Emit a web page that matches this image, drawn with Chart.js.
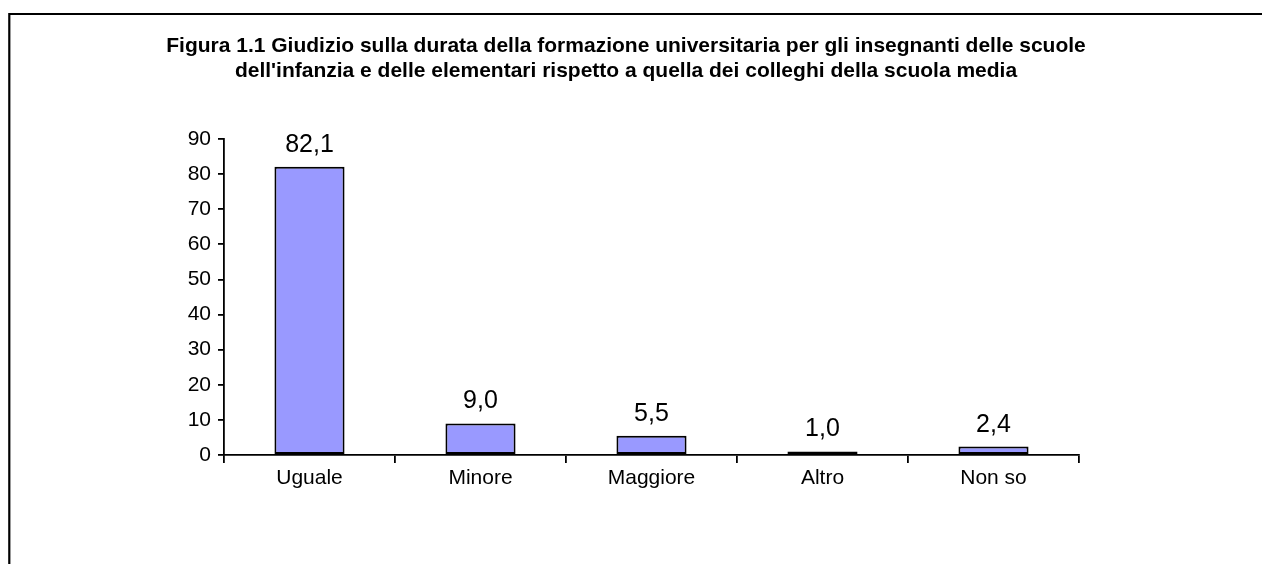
<!DOCTYPE html>
<html lang="it">
<head>
<meta charset="utf-8">
<title>Figura 1.1</title>
<script src="https://cdn.jsdelivr.net/npm/chart.js@4/dist/chart.umd.min.js"></script>
<style>
  html, body { margin: 0; padding: 0; background: #fff; }
  #wrap { position: relative; width: 1262px; height: 564px; }
</style>
</head>
<body>
<div id="wrap"><canvas id="chart"></canvas></div>
<script>
/* ---- data ---- */
const categories = ['Uguale', 'Minore', 'Maggiore', 'Altro', 'Non so'];
const values = [82.1, 9.0, 5.5, 1.0, 2.4];
const yTicks = [0, 10, 20, 30, 40, 50, 60, 70, 80, 90];
const titleLines = [
  'Figura 1.1 Giudizio sulla durata della formazione universitaria per gli insegnanti delle scuole',
  "dell'infanzia e delle elementari rispetto a quella dei colleghi della scuola media"
];

const FONT = '"Liberation Sans", Arial, Helvetica, sans-serif';

function fmt(v){ return v.toFixed(1).replace('.', ','); }

// frame around the picture (only left and top edges are inside the crop)
const framePlugin = {
  id: 'frame',
  beforeDraw(chart){
    const c = chart.ctx;
    c.save();
    c.fillStyle = '#fff';
    c.fillRect(0, 0, chart.width, chart.height);
    c.strokeStyle = '#000'; c.lineWidth = 2.2;
    c.beginPath();
    c.moveTo(9.3, chart.height); c.lineTo(9.3, 14); c.lineTo(chart.width, 14);
    c.stroke();
    c.restore();
  }
};

// value labels above each bar, Italian decimal comma
const valueLabels = {
  id: 'valueLabels',
  afterDatasetsDraw(chart){
    const c = chart.ctx;
    const meta = chart.getDatasetMeta(0);
    c.save();
    c.font = '25px ' + FONT;
    c.fillStyle = '#000';
    c.textAlign = 'center';
    c.textBaseline = 'alphabetic';
    meta.data.forEach((bar, i) => {
      c.fillText(fmt(values[i]), bar.x, bar.y - 15);
    });
    c.restore();
  }
};

new Chart(document.getElementById('chart'), {
  type: 'bar',
  data: {
    labels: categories,
    datasets: [{
      data: values,
      backgroundColor: '#9999FF',
      borderColor: '#000',
      borderWidth: 2,
      borderSkipped: false,
      barPercentage: 0.41,
      categoryPercentage: 1
    }]
  },
  options: {
    responsive: true,
    maintainAspectRatio: false,
    animation: false,
    layout: { padding: { left: 13, right: 23, top: 0, bottom: 69 } },
    plugins: {
      legend: { display: false },
      tooltip: { enabled: false },
      title: {
        display: true,
        text: titleLines,
        color: '#000',
        font: { family: FONT, size: 21, weight: 'bold', lineHeight: 1.19 },
        padding: { top: 34, bottom: 55 }
      }
    },
    scales: {
      x: {
        afterFit(s){ s.height = 40; },
        grid: { display: true, drawOnChartArea: false, drawTicks: true, tickLength: 8, color: '#000', lineWidth: 1.8, offset: true },
        border: { display: true, color: '#000', width: 1.8 },
        ticks: { color: '#000', font: { family: FONT, size: 21 }, padding: 3, maxRotation: 0 }
      },
      y: {
        min: 0, max: 90,
        afterFit(s){ s.width = 211; },
        afterBuildTicks(s){ s.ticks = yTicks.map(v => ({ value: v })); },
        grid: { display: true, drawOnChartArea: false, drawTicks: true, tickLength: 6, color: '#000', lineWidth: 1.8 },
        border: { display: true, color: '#000', width: 1.8 },
        ticks: { color: '#000', font: { family: FONT, size: 21 }, padding: 7 }
      },
      y2: {
        position: 'right',
        afterFit(s){ s.width = 160; },
        grid: { display: false },
        border: { display: false },
        ticks: { display: false }
      }
    }
  },
  plugins: [framePlugin, valueLabels]
});
</script>
</body>
</html>
